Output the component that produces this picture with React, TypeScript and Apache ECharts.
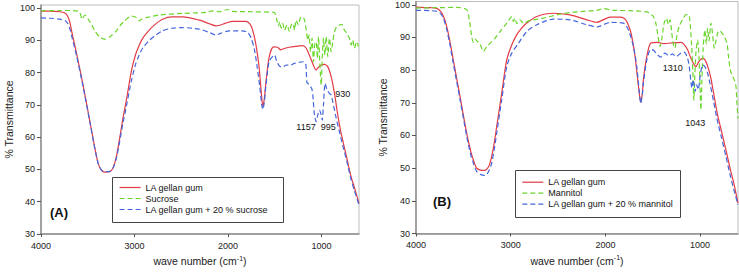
import React, { useEffect, useRef } from "react";
import * as echarts from "echarts";

// Tick values
const xTicks = [4000, 3000, 2000, 1000];
const yTicks = [30, 40, 50, 60, 70, 80, 90, 100];

// Series names
const namesA = ["LA gellan gum", "Sucrose", "LA gellan gum + 20 % sucrose"];
const namesB = ["LA gellan gum", "Mannitol", "LA gellan gum + 20 % mannitol"];

// Panel A: [wave number, % transmittance]
const gellanA: [number, number][] = [
  [4000, 99.1], [3900, 99.1], [3800, 98.9], [3744, 98.5], [3715, 97.5], [3690, 95.5], [3673, 93],
  [3620, 86], [3549, 76], [3478, 65], [3430, 57.5], [3390, 52], [3354, 49.8], [3318, 49.2],
  [3265, 49.3], [3230, 50.5], [3194, 54], [3160, 59.5], [3123, 66], [3081, 72.5], [3034, 80.5],
  [2990, 85.5], [2950, 88.5], [2910, 90.8], [2850, 93], [2780, 95], [2700, 96.6], [2600, 97.3],
  [2484, 97.3], [2307, 96.3], [2200, 95.2], [2129, 94.5], [2080, 94.8], [2023, 95.4], [1952, 95.9],
  [1810, 95.9], [1770, 95.2], [1740, 93.5], [1703, 88.9], [1668, 81.7], [1645, 74], [1628, 69.6],
  [1612, 72], [1597, 76.5], [1561, 84.8], [1515, 88], [1470, 87.9], [1437, 87.1], [1400, 87.5],
  [1348, 87.9], [1206, 88.4], [1164, 87.6], [1111, 84], [1058, 80.8], [1040, 81.5], [1004, 82.4],
  [969, 82.6], [934, 81.9], [898, 78.8], [862, 73.6], [827, 66.9], [800, 62.5], [774, 59],
  [730, 53.5], [684, 47.7], [650, 44.5], [600, 39.5],
];
const sucroseA: [number, number][] = [
  [4000, 99.2], [3800, 99.3], [3620, 99.2], [3585, 98.7], [3560, 96.6], [3531, 97.9], [3496, 96.6],
  [3460, 95], [3425, 93], [3372, 91.1], [3318, 90.4], [3265, 91.1], [3194, 93], [3150, 94.8],
  [3105, 96.1], [3034, 97.6], [2981, 97.1], [2946, 96.1], [2928, 96.6], [2875, 97.1], [2733, 97.9],
  [2484, 98.4], [2236, 98.7], [2165, 99.2], [2094, 98.9], [2005, 99.6], [1952, 99], [1739, 98.9],
  [1508, 98.7], [1480, 96.5], [1460, 94.5], [1449, 95.8], [1431, 93.8], [1415, 95.3], [1396, 93.2],
  [1370, 94.8], [1343, 92.7], [1325, 94.8], [1305, 95.3], [1290, 93.2], [1272, 96.3], [1250, 94.8],
  [1228, 96.9], [1207, 97.4], [1190, 96.9], [1178, 95.8], [1164, 93.2], [1147, 90.1], [1135, 91.7],
  [1118, 86.5], [1102, 90.7], [1087, 83.4], [1072, 89.1], [1058, 89.6], [1045, 84.5], [1033, 91.2],
  [1019, 82.9], [1004, 76.2], [993, 84.5], [980, 90.7], [965, 85.5], [951, 91.2], [934, 85],
  [916, 90.7], [898, 86.5], [880, 89.6], [862, 92.7], [838, 94.3], [809, 94.8], [784, 95],
  [756, 93.2], [731, 92.2], [702, 90.7], [684, 88.6], [667, 90.1], [649, 87.6], [624, 89.6], [606, 88.1],
];
const gellanSucroseA: [number, number][] = [
  [4000, 97], [3900, 96.9], [3800, 96.6], [3744, 96.2], [3715, 95.3], [3690, 93.5], [3673, 91.5],
  [3620, 85.3], [3549, 75.5], [3478, 64.8], [3430, 57.3], [3390, 52], [3354, 49.8], [3318, 49.3],
  [3265, 49.4], [3230, 50.4], [3194, 53.5], [3160, 58.5], [3123, 64.5], [3081, 70.5], [3034, 77.5],
  [2990, 82.5], [2950, 85.5], [2910, 87.8], [2850, 89.8], [2780, 91.5], [2700, 93], [2600, 93.8],
  [2484, 94], [2307, 93.5], [2200, 92.5], [2129, 91.7], [2080, 92.2], [1987, 93], [1850, 93],
  [1790, 92.5], [1756, 90.9], [1720, 87.5], [1690, 82], [1660, 75.5], [1640, 70], [1628, 68.6],
  [1612, 71], [1597, 75.5], [1561, 83.5], [1520, 85.2], [1503, 85.5], [1480, 83.5], [1454, 82.2],
  [1428, 81.7], [1400, 82], [1378, 82.4], [1340, 82.3], [1290, 82.9], [1200, 83.4], [1170, 82.8],
  [1157, 77], [1140, 76.5], [1120, 75.8], [1104, 75], [1094, 73.1], [1076, 66.9], [1058, 64.8],
  [1040, 67], [1022, 68.4], [1005, 67], [993, 65.3], [980, 70], [962, 76.7], [941, 74.6],
  [916, 73.6], [898, 73.1], [880, 71], [844, 65.9], [809, 61.7], [774, 57.5], [730, 52.5],
  [684, 46.8], [650, 43.5], [600, 39],
];

// Panel B
const gellanB: [number, number][] = [
  [4000, 99.3], [3850, 99.1], [3782, 98.9], [3740, 98], [3710, 96.5], [3676, 93.4], [3640, 88.5],
  [3606, 83.1], [3535, 71.9], [3465, 60.7], [3420, 55], [3394, 52.5], [3360, 50], [3320, 49.4],
  [3280, 49.3], [3254, 49.6], [3225, 51], [3201, 53.5], [3175, 57.5], [3148, 62.7], [3095, 72.9],
  [3042, 83.1], [2989, 87.7], [2937, 90.8], [2880, 93], [2831, 94.4], [2725, 96.4], [2549, 97.4],
  [2373, 96.9], [2197, 95.4], [2092, 94.6], [2030, 95.3], [1951, 96.2], [1845, 96.2], [1800, 95.8],
  [1775, 94.9], [1745, 92.8], [1722, 90.3], [1687, 84.2], [1651, 75], [1627, 70.2], [1610, 73],
  [1599, 77], [1563, 84.2], [1521, 88.3], [1450, 88.5], [1380, 88.1], [1309, 88.3], [1203, 88.5],
  [1168, 87.8], [1132, 86.2], [1097, 83.6], [1062, 81.6], [1044, 81.1], [1020, 82.3], [992, 83.3],
  [964, 83.6], [939, 82.6], [914, 80.6], [886, 77.5], [851, 71.9], [815, 66.2], [780, 62],
  [727, 55.5], [680, 49.5], [645, 45.5], [600, 39.3],
];
const mannitolB: [number, number][] = [
  [4000, 99], [3800, 99.1], [3570, 99.2], [3465, 98.5], [3437, 95.4], [3412, 90.3], [3394, 88.5],
  [3377, 89.5], [3352, 88.8], [3324, 88], [3289, 85.7], [3254, 87.2], [3218, 88.2], [3165, 89.8],
  [3113, 91.8], [3042, 94.4], [2989, 96.4], [2972, 94.9], [2954, 95.9], [2937, 94.2], [2901, 95.4],
  [2866, 94.4], [2796, 95.2], [2655, 95.9], [2514, 96.9], [2373, 97.6], [2232, 98], [2092, 98.3],
  [2021, 98.8], [1915, 98.3], [1739, 98.2], [1560, 97.8], [1521, 97], [1495, 96.5], [1468, 94.4],
  [1444, 90.3], [1423, 87.2], [1405, 89.5], [1380, 94.4], [1355, 95.9], [1335, 94], [1317, 95.4],
  [1300, 91.5], [1285, 88.2], [1267, 86.7], [1245, 90.5], [1221, 93.4], [1186, 95.4], [1150, 97],
  [1125, 97], [1110, 95.8], [1091, 88.2], [1076, 79], [1066, 70.8], [1056, 78], [1045, 85],
  [1027, 89.2], [1010, 83], [999, 72.9], [992, 67.8], [982, 76], [967, 87.2], [950, 92.3],
  [935, 88], [921, 92.8], [905, 89], [886, 94.4], [870, 91.5], [851, 86.7], [833, 89], [815, 91.3],
  [798, 92.1], [773, 91.5], [745, 90.3], [716, 88.2], [702, 84.6], [681, 80], [656, 78], [639, 77],
  [621, 74.9], [611, 69.8], [600, 65.2],
];
const gellanMannitolB: [number, number][] = [
  [4000, 98.3], [3850, 98.2], [3782, 98], [3740, 97.3], [3710, 95.8], [3676, 92.5], [3640, 87.5],
  [3606, 82], [3535, 71], [3465, 59.8], [3420, 53.8], [3394, 51.5], [3360, 49], [3320, 48.1],
  [3280, 47.8], [3254, 48], [3225, 49.5], [3201, 51.5], [3175, 55.5], [3148, 60.7], [3095, 70.9],
  [3042, 81.1], [2989, 85.2], [2919, 88.2], [2831, 91.8], [2725, 93.9], [2549, 95.6], [2373, 95.4],
  [2197, 93.9], [2092, 93.2], [1951, 94.6], [1810, 94.4], [1757, 92.3], [1704, 87.2], [1669, 81.1],
  [1644, 73.9], [1627, 69.8], [1610, 72.5], [1599, 76], [1563, 83.1], [1521, 86.4], [1490, 86],
  [1450, 84.7], [1415, 84], [1373, 85.2], [1327, 84.4], [1290, 85], [1256, 84.1], [1203, 85.2],
  [1168, 85.5], [1132, 83.6], [1115, 81.1], [1097, 76.5], [1087, 74.5], [1073, 77.1], [1052, 73.5],
  [1036, 75.5], [1020, 74], [999, 78.3], [974, 81.6], [950, 81.1], [921, 79.1], [893, 75.5],
  [858, 70.4], [823, 65.2], [780, 60], [727, 53.5], [680, 47.5], [645, 43.5], [600, 38.8],
];

const RED = "#e23b45";
const GREEN = "#6ad62c";
const BLUE = "#4466dd";
const FONT = "'Liberation Sans', Arial, sans-serif";

function xAxisCfg(i: number) {
  return {
    gridIndex: i,
    type: "value",
    inverse: true,
    min: 600,
    max: 4000,
    axisLine: { show: true, onZero: false, lineStyle: { color: "#8c8c8c", width: 1.5 } },
    axisTick: { show: true, length: 3, customValues: xTicks, lineStyle: { color: "#555" } },
    axisLabel: {
      customValues: xTicks,
      formatter: (v: number) => String(v),
      margin: 7,
      fontSize: 9,
      color: "#222",
      fontFamily: FONT,
    },
    splitLine: { show: false },
    name: "wave number (cm{sup|-1})",
    nameLocation: "middle",
    nameGap: 19,
    nameTextStyle: {
      fontSize: 10.5,
      color: "#222",
      fontFamily: FONT,
      rich: { sup: { fontSize: 7, color: "#222", fontFamily: FONT, verticalAlign: "bottom", padding: [0, 0, 6, 0] } },
    },
  };
}
function yAxisCfg(i: number, gap: number) {
  return {
    gridIndex: i,
    type: "value",
    min: 30,
    max: 101,
    axisLine: { show: true, onZero: false, lineStyle: { color: "#8c8c8c", width: 1.5 } },
    axisTick: { show: true, length: 4, customValues: yTicks, lineStyle: { color: "#555" } },
    axisLabel: {
      customValues: yTicks,
      formatter: (v: number) => String(v),
      margin: 6,
      fontSize: 9,
      color: "#222",
      fontFamily: FONT,
    },
    splitLine: { show: false },
    name: "% Transmittance",
    nameLocation: "middle",
    nameGap: gap,
    nameTextStyle: { fontSize: 10.5, color: "#222", fontFamily: FONT },
  };
}
function lineSeries(name: string, data: [number, number][], idx: number, color: string, dashed: boolean) {
  return {
    type: "line",
    name,
    data,
    xAxisIndex: idx,
    yAxisIndex: idx,
    symbol: "none",
    showSymbol: false,
    smooth: 0.25,
    lineStyle: { color, width: 1.2, type: dashed ? [5, 3] : "solid" },
    itemStyle: { color },
  };
}

export default function App() {
  const ref = useRef<HTMLDivElement>(null);
  useEffect(() => {
    if (!ref.current) return;
    const chart = echarts.init(ref.current, null, { renderer: "svg" });
    const colors = [RED, GREEN, BLUE];
    const legendCommon = {
      orient: "vertical",
      itemWidth: 21,
      itemHeight: 10,
      itemGap: 2,
      padding: 0,
      selectedMode: false,
      itemStyle: { opacity: 0 },
      lineStyle: { width: 1.2 },
      textStyle: { fontSize: 9, color: "#111", fontFamily: FONT },
    };
    chart.setOption({
      animation: false,
      textStyle: { fontFamily: FONT },
      grid: [
        { left: 41, top: 5, width: 318, height: 229, show: true, borderColor: "#bdbdbd", borderWidth: 1 },
        { left: 416, top: 1.5, width: 322, height: 232, show: true, borderColor: "#bdbdbd", borderWidth: 1 },
      ],
      xAxis: [xAxisCfg(0), xAxisCfg(1)],
      yAxis: [yAxisCfg(0, 27), yAxisCfg(1, 28)],
      legend: [
        { ...legendCommon, data: namesA, left: 119, top: 183 },
        { ...legendCommon, data: namesB, left: 521.7, top: 177.7 },
      ],
      graphic: [
        { type: "rect", shape: { x: 112.5, y: 177.5, width: 171, height: 45 }, style: { fill: "none", stroke: "#444", lineWidth: 1 } },
        { type: "rect", shape: { x: 515.5, y: 170.5, width: 165, height: 47 }, style: { fill: "none", stroke: "#444", lineWidth: 1 } },
        { type: "text", x: 50, y: 212.5, style: { text: "(A)", font: `bold 13px ${FONT}`, fill: "#111", verticalAlign: "middle" } },
        { type: "text", x: 433, y: 201.7, style: { text: "(B)", font: `bold 13px ${FONT}`, fill: "#111", verticalAlign: "middle" } },
        { type: "text", x: 306, y: 126.7, style: { text: "1157", font: `9px ${FONT}`, fill: "#111", align: "center", verticalAlign: "middle" } },
        { type: "text", x: 328.3, y: 126.7, style: { text: "995", font: `9px ${FONT}`, fill: "#111", align: "center", verticalAlign: "middle" } },
        { type: "text", x: 342.7, y: 94.3, style: { text: "930", font: `9px ${FONT}`, fill: "#111", align: "center", verticalAlign: "middle" } },
        { type: "text", x: 672.8, y: 68.3, style: { text: "1310", font: `9px ${FONT}`, fill: "#111", align: "center", verticalAlign: "middle" } },
        { type: "text", x: 695.3, y: 122.7, style: { text: "1043", font: `9px ${FONT}`, fill: "#111", align: "center", verticalAlign: "middle" } },
      ],
      series: [
        lineSeries(namesA[0], gellanA, 0, colors[0], false),
        lineSeries(namesA[1], sucroseA, 0, colors[1], true),
        lineSeries(namesA[2], gellanSucroseA, 0, colors[2], true),
        lineSeries(namesB[0], gellanB, 1, colors[0], false),
        lineSeries(namesB[1], mannitolB, 1, colors[1], true),
        lineSeries(namesB[2], gellanMannitolB, 1, colors[2], true),
      ],
    });
    return () => chart.dispose();
  }, []);
  return (
    <div
      ref={ref}
      style={{ position: "fixed", left: 0, top: 0, width: 739, height: 277, background: "#fff" }}
    />
  );
}
